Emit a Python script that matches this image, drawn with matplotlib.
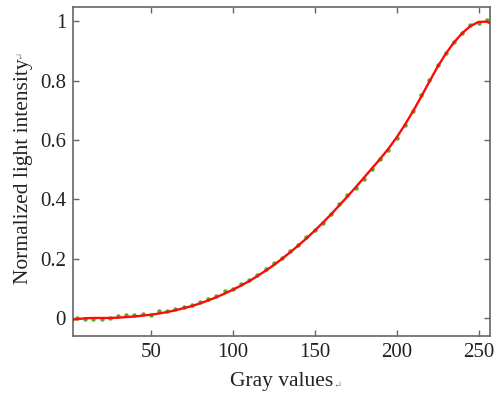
import matplotlib
matplotlib.use("Agg")
import matplotlib.pyplot as plt
import numpy as np

# Fitted curve (red line)
fit_x = [0, 5, 10, 15, 20, 25, 30, 35, 40, 45, 50, 55, 60, 65, 70, 75, 80, 85, 90, 95,
         100, 105, 110, 115, 120, 125, 130, 135, 140, 145, 150, 155, 160, 165, 170, 175,
         180, 185, 190, 195, 200, 205, 210, 215, 220, 225, 230, 235, 240, 245, 250, 255, 260]
fit_y = [-0.006, -0.003, 0.000, 0.001, 0.001, 0.001, 0.002, 0.004, 0.006, 0.009, 0.012,
         0.016, 0.021, 0.027, 0.034, 0.041, 0.050, 0.060, 0.071, 0.083, 0.096, 0.110,
         0.125, 0.142, 0.160, 0.179, 0.200, 0.222, 0.245, 0.269, 0.295, 0.322, 0.350,
         0.380, 0.410, 0.441, 0.473, 0.505, 0.537, 0.571, 0.609, 0.651, 0.697, 0.746,
         0.797, 0.847, 0.891, 0.929, 0.960, 0.984, 0.998, 0.999, 0.986]

# Measured points (green dots)
meas_x = [5, 10, 15, 20, 25, 30, 35, 40, 45, 50, 55, 60, 65, 70, 75, 80, 85, 90, 95, 100,
          105, 110, 115, 120, 125, 130, 135, 140, 145, 150, 155, 160, 165, 170, 175, 180,
          185, 190, 195, 200, 205, 210, 215, 220, 225, 230, 235, 240, 245, 250, 255]
meas_y = [0.000, -0.002, -0.002, -0.002, 0.002, 0.006, 0.010, 0.012, 0.014, 0.012, 0.023,
          0.026, 0.030, 0.038, 0.044, 0.054, 0.065, 0.074, 0.091, 0.097, 0.115, 0.130,
          0.146, 0.165, 0.185, 0.202, 0.228, 0.247, 0.275, 0.298, 0.322, 0.352, 0.385,
          0.414, 0.438, 0.470, 0.504, 0.536, 0.568, 0.607, 0.652, 0.697, 0.753, 0.801,
          0.854, 0.894, 0.931, 0.961, 0.987, 0.995, 1.003]

xticks = [50, 100, 150, 200, 250]
yticks = [0, 0.2, 0.4, 0.6, 0.8, 1.0]
ytick_labels = ["0", "0.2", "0.4", "0.6", "0.8", "1"]

plt.rcParams['font.family'] = ['Liberation Serif', 'DejaVu Serif']

fig = plt.figure(figsize=(5.0, 3.94), dpi=100)
ax = fig.add_axes([0.146, 0.147, 0.834, 0.835])

ax.plot(meas_x, meas_y, linestyle='none', marker='o', markersize=3.2,
        color='#4fae2c', markeredgewidth=0, zorder=2)
ax.plot(fit_x, fit_y, color='#ff0a0a', linewidth=1.7, zorder=3)

ax.set_xlim(2.5, 257)
ax.set_ylim(-0.06, 1.048)
ax.set_xticks(xticks)
ax.set_yticks(yticks)
ax.set_yticklabels(ytick_labels)

for s in ax.spines.values():
    s.set_color('#666666')
    s.set_linewidth(1.2)
ax.tick_params(direction='in', top=True, right=True, length=4, width=1.0,
               color='#666666', labelsize=15, labelcolor='#222222', pad=5)

ax.set_xlabel('Gray values', fontsize=15.5, color='#222222', labelpad=7)
ax.set_ylabel('Normalized light intensity', fontsize=15.5, color='#222222', labelpad=5)

ax.annotate('\u21b5', xy=(1, 0.05), xycoords=ax.xaxis.label, fontsize=7,
            color='#888888', ha='left', va='bottom')
ax.annotate('\u21b5', xy=(0.05, 1), xycoords=ax.yaxis.label, fontsize=7,
            color='#888888', ha='left', va='bottom', rotation=90)

fig.savefig('out.png', dpi=100)
